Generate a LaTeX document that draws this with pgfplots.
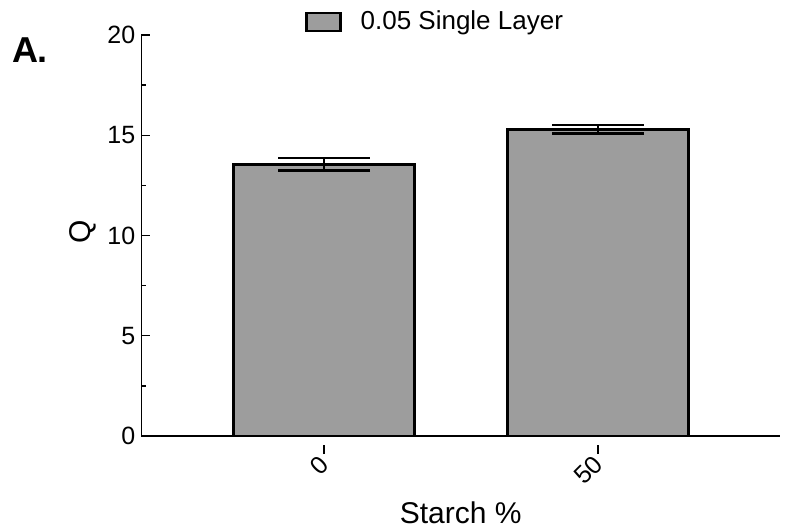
\documentclass[border=0pt]{standalone}
\usepackage{fontspec}
\setmainfont{Liberation Sans}
\usepackage{pgfplots}
\pgfplotsset{compat=1.18}
\definecolor{bargray}{RGB}{157,157,157}
\begin{document}
\fontsize{25bp}{30bp}\selectfont
\begin{tikzpicture}
\begin{axis}[
  scale only axis, width=638.5bp, height=401bp,
  clip=false,
  axis lines*=left,
  axis line style={line width=1.4bp, -},
  xmin=-0.666, xmax=1.664, ymin=0, ymax=20,
  ytick={0,5,10,15,20}, minor ytick={2.5,7.5,12.5,17.5},
  xtick={0,1}, xticklabels={0,50},
  tick align=inside,
  major tick length=9bp, minor tick length=5bp,
  tick style={line width=1.4bp, black},
  xtick style={yshift=-9bp},
  /pgf/number format/assume math mode=true,
  tick label style={font=\fontsize{25bp}{30bp}\selectfont},
  yticklabel style={inner sep=0pt, xshift=-6bp},
  xticklabel style={xshift=0bp, yshift=-15bp, rotate=45, anchor=east, inner sep=0pt},
  xlabel={Starch \%}, ylabel={Q},
  every axis x label/.style={at={(axis description cs:0.5,-0.192)}, anchor=center, font=\fontsize{30bp}{36bp}\selectfont},
  every axis y label/.style={at={(axis description cs:-0.0916,0.509)}, rotate=90, anchor=center, font=\fontsize{30bp}{36bp}\selectfont},
  ybar, bar width=181bp,
  legend style={at={(axis description cs:0.256,1.032)}, anchor=west, draw=none, fill=none, inner sep=0pt,
    font=\fontsize{26bp}{30bp}\selectfont},
  legend image code/.code={\draw[line width=2.5bp, draw=black, fill=bargray] (0bp,-9bp) rectangle (34bp,9bp); \path (51bp,0bp);},
]
\addplot[ybar, fill=bargray, draw=black, line width=2.5bp,
  error bars/.cd, y dir=both, y explicit, error mark=|,
  error bar style={line width=2.5bp, black},
  error mark options={line width=2.5bp, mark size=46bp, black}]
  coordinates {(0,13.55) +- (0,0.32) (1,15.29) +- (0,0.21)};
\addlegendentry{0.05 Single Layer}
\node[font=\bfseries\fontsize{36bp}{40bp}\selectfont] at (axis description cs:-0.1746,0.9626) {A.};
\coordinate (bl) at (axis description cs:-0.2216,-0.2319);
\coordinate (tr) at (axis description cs:1.0094,1.0873);
\end{axis}
\pgfresetboundingbox
\useasboundingbox (bl) rectangle (tr);
\end{tikzpicture}
\end{document}
